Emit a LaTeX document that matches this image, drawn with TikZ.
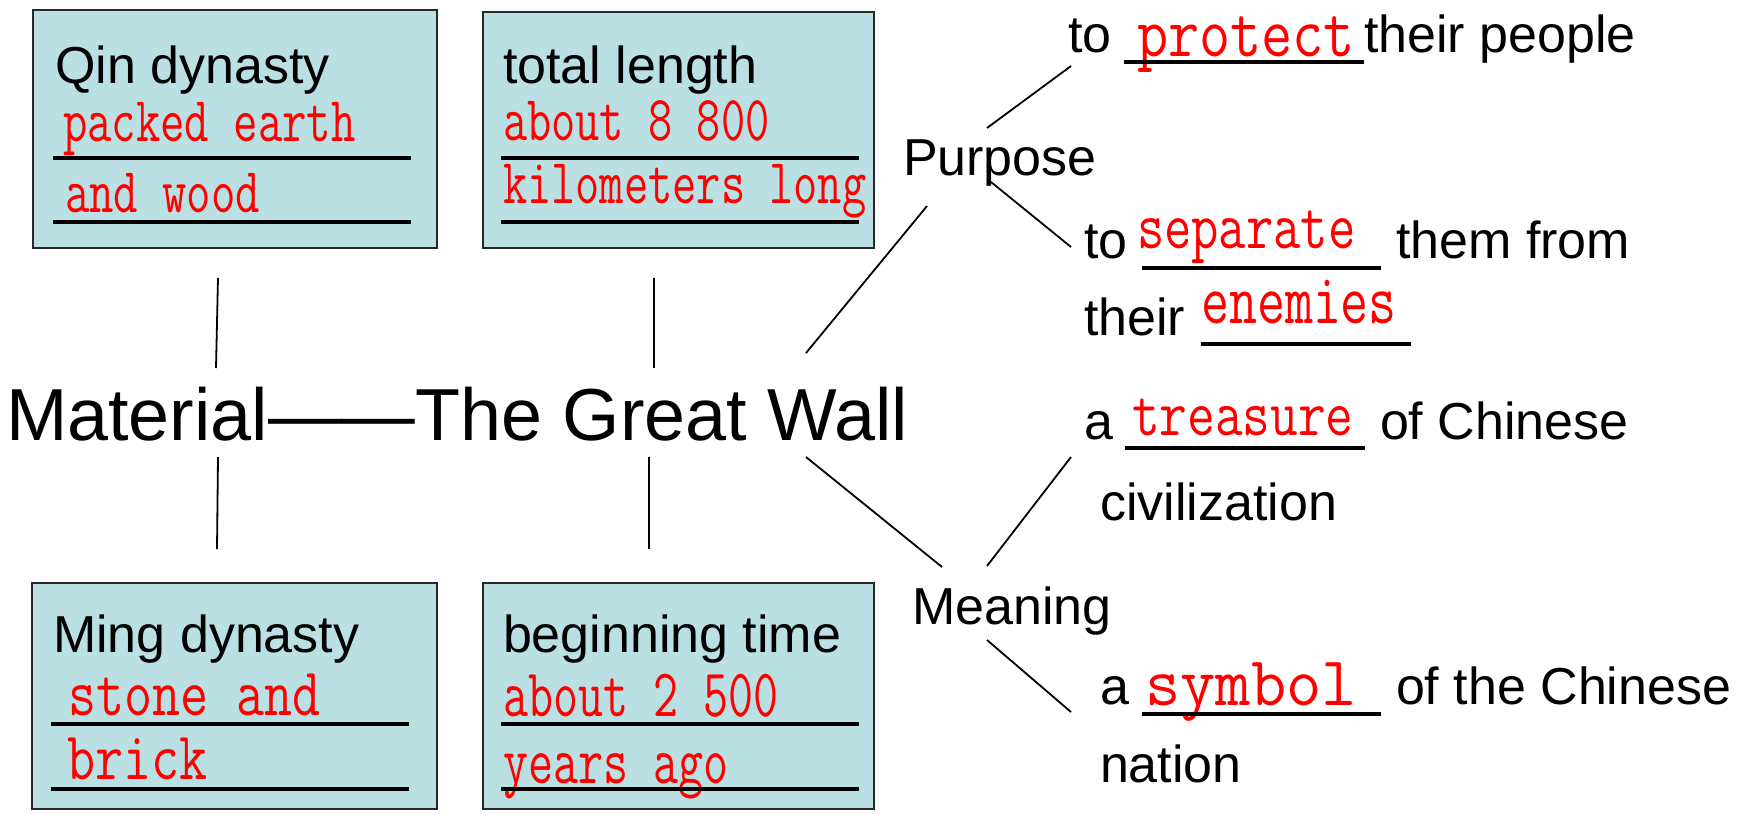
\documentclass[tikz,border=0pt]{standalone}
\usepackage{fontspec}
\setmainfont{Liberation Sans}
\usepackage{graphicx}
\usetikzlibrary{fit}
\definecolor{boxfill}{RGB}{187,224,227}
\definecolor{boxline}{RGB}{40,40,40}
\newcommand\redw[3]{{\ttfamily\fontsize{#1pt}{#1pt}\selectfont\color{red}\scalebox{#2}[1]{#3}}}
\tikzset{
  box/.style={draw=boxline, line width=1pt, fill=boxfill, inner sep=0pt, outer sep=0pt},
  txt/.style={anchor=base west, inner sep=0pt, outer sep=0pt, font=\fontsize{26pt}{26pt}\selectfont},
  bigtxt/.style={anchor=base west, inner sep=0pt, outer sep=0pt, font=\fontsize{36.85pt}{37pt}\selectfont},
  rtxt/.style={anchor=base west, inner sep=0pt, outer sep=0pt},
  uline/.style={line width=2pt},
  rline/.style={line width=1.8pt},
  conn/.style={line width=0.9pt}
}
\begin{document}
\begin{tikzpicture}[x=0.5pt,y=-0.5pt]
\useasboundingbox (0,0) rectangle (1748,814);
% boxes
\node[box, fit={(33,10) (437,248)}] (b1) {};
\node[box, fit={(483,12) (874,248)}] (b2) {};
\node[box, fit={(32,583) (437,809)}] (b3) {};
\node[box, fit={(483,583) (874,809)}] (b4) {};
% box 1
\node[txt] (t1) at (55,83) {Qin dynasty};
\node[rtxt] (r1a) at (63,141) {\redw{32}{0.74}{packed earth}};
\node[rtxt] (r1b) at (65,212) {\redw{32}{0.74}{and wood}};
\draw[uline] (53,158) -- (411,158);
\draw[uline] (53,222) -- (411,222);
% box 2
\node[txt] (t2) at (503,83) {total length};
\node[rtxt] (r2a) at (503,140) {\redw{32}{0.735}{about 8 800}};
\node[rtxt] (r2b) at (503,203) {\redw{32}{0.735}{kilometers long}};
\draw[uline] (501,158) -- (859,158);
\draw[uline] (501,222) -- (859,222);
% box 3
\node[txt] (t3) at (53,652) {Ming dynasty};
\node[rtxt] (r3a) at (68,715) {\redw{34}{0.80}{stone and}};
\node[rtxt] (r3b) at (67,779) {\redw{34}{0.80}{brick}};
\draw[uline] (51,724) -- (409,724);
\draw[uline] (51,789) -- (409,789);
% box 4
\node[txt] (t4) at (503,652) {beginning time};
\node[rtxt] (r4a) at (503,716) {\redw{34}{0.715}{about 2 500}};
\node[rtxt] (r4b) at (503,783) {\redw{34}{0.715}{years ago}};
\draw[uline] (501,724) -- (859,724);
\draw[uline] (501,789) -- (859,789);
% centre
\node[bigtxt] (gw) at (6,440) {Material——The Great Wall};
% purpose / meaning
\node[txt] (pur) at (903,175) {Purpose};
\node[txt] (mea) at (912,624) {Meaning};
% purpose items
\node[txt] (p1a) at (1068,52) {to};
\node[rtxt] (p1r) at (1137,56) {\redw{36}{0.84}{protect}};
\draw[rline] (1124,62) -- (1364,62);
\node[txt] (p1b) at (1364,52) {their people};
\node[txt] (p2a) at (1084,258) {to};
\node[rtxt] (p2r) at (1137,248) {\redw{34}{0.78}{separate}};
\draw[rline] (1142,268) -- (1381,268);
\node[txt] (p2b) at (1396,258) {them from};
\node[txt] (p2c) at (1084,335) {their};
\node[rtxt] (p2s) at (1201,323) {\redw{36}{0.755}{enemies}};
\draw[rline] (1201,344) -- (1411,344);
% meaning items
\node[txt] (m1a) at (1084,439) {a};
\node[rtxt] (m1r) at (1132,435) {\redw{33}{0.815}{treasure}};
\draw[rline] (1125,448) -- (1365,448);
\node[txt] (m1b) at (1380,439) {of Chinese};
\node[txt] (m1c) at (1100,520) {civilization};
\node[txt] (m2a) at (1100,704) {a};
\node[rtxt] (m2r) at (1145,705) {\redw{35}{0.98}{symbol}};
\draw[rline] (1142,714) -- (1381,714);
\node[txt] (m2b) at (1396,704) {of the Chinese};
\node[txt] (m2c) at (1100,782) {nation};
% connector end points
\coordinate (c1a) at (218,278); \coordinate (c1b) at (216,368);
\coordinate (c3a) at (218,457); \coordinate (c3b) at (217,549);
\coordinate (c2a) at (654,278); \coordinate (c2b) at (654,368);
\coordinate (c4a) at (649,457); \coordinate (c4b) at (649,549);
\coordinate (cpa) at (806,353); \coordinate (cpb) at (927,206);
\coordinate (cma) at (806,457); \coordinate (cmb) at (942,567);
\coordinate (p1x) at (987,128); \coordinate (p1y) at (1071,66);
\coordinate (p2x) at (991,182); \coordinate (p2y) at (1071,247);
\coordinate (m1x) at (987,566); \coordinate (m1y) at (1071,457);
\coordinate (m2x) at (987,640); \coordinate (m2y) at (1071,712);
\draw[conn] (c1a) -- (c1b);
\draw[conn] (c3a) -- (c3b);
\draw[conn] (c2a) -- (c2b);
\draw[conn] (c4a) -- (c4b);
\draw[conn] (cpa) -- (cpb);
\draw[conn] (cma) -- (cmb);
\draw[conn] (p1x) -- (p1y);
\draw[conn] (p2x) -- (p2y);
\draw[conn] (m1x) -- (m1y);
\draw[conn] (m2x) -- (m2y);
\end{tikzpicture}
\end{document}
